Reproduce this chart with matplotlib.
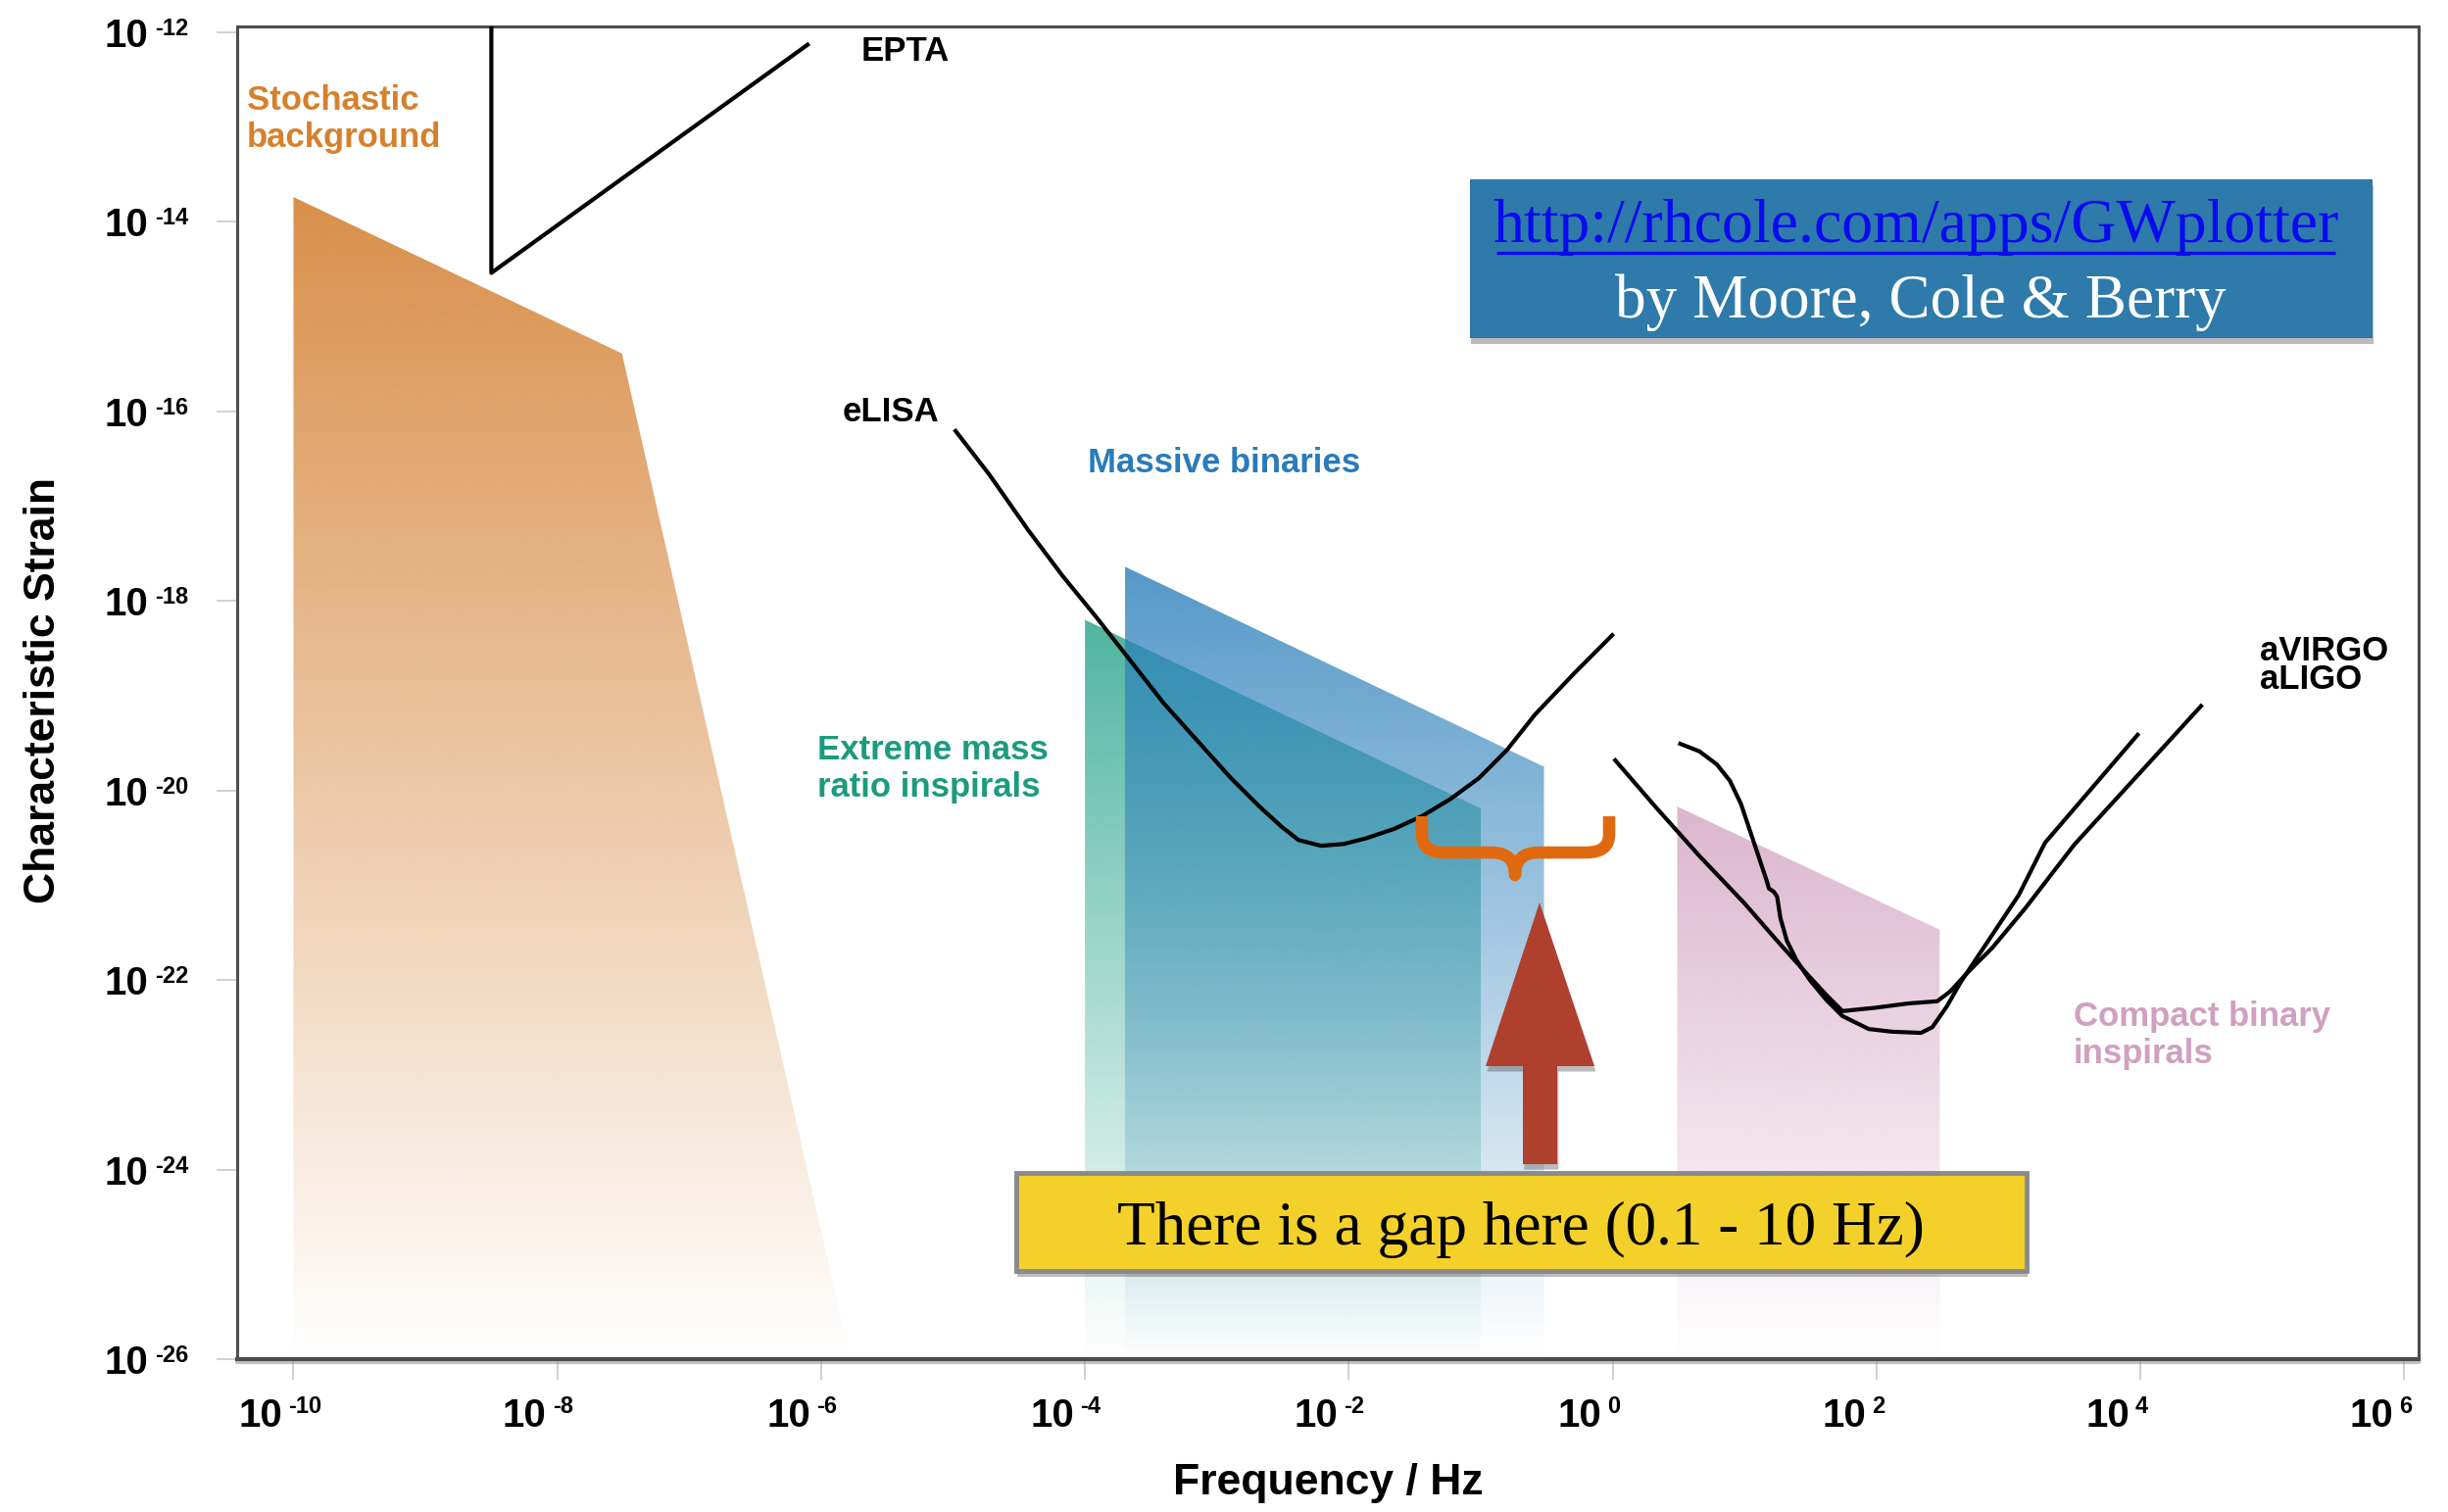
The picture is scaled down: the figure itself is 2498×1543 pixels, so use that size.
import numpy as np
import matplotlib

matplotlib.use("Agg")
import matplotlib.pyplot as plt
import matplotlib.colors as mcolors
import matplotlib.patheffects as pe
from matplotlib.patches import Polygon, Rectangle, PathPatch
from matplotlib.path import Path
from matplotlib.ticker import FixedLocator, FuncFormatter, NullLocator
from matplotlib.transforms import ScaledTranslation

W, H = 2498, 1543
SANS = ["Liberation Sans", "DejaVu Sans"]
SERIF = ["Liberation Serif", "DejaVu Serif"]

# everything below is log10(frequency / Hz) and log10(characteristic strain)
STOCH_LOGF = [-10.0, -7.51, -5.78, -10.0]
STOCH_LOGH = [-13.74, -15.39, -26.0, -26.0]

EMRI_LOGF = [-4.0, -1.0, -1.0, -4.0]
EMRI_LOGH = [-18.20, -20.19, -26.0, -26.0]

MASSIVE_LOGF = [-3.696, -0.52, -0.52, -3.696]
MASSIVE_LOGH = [-17.64, -19.75, -26.0, -26.0]

COMPACT_LOGF = [0.49, 2.48, 2.48, 0.49]
COMPACT_LOGH = [-20.17, -21.47, -26.0, -26.0]

EPTA_LOGF = [-8.5, -8.5, -6.09]
EPTA_LOGH = [-11.9, -14.54, -12.12]

ELISA_LOGF = [-4.990, -4.726, -4.427, -4.171, -3.915, -3.659, -3.403, -3.148,
              -2.892, -2.678, -2.507, -2.380, -2.210, -2.039, -1.868, -1.655,
              -1.441, -1.228, -1.015, -0.802, -0.588, -0.290, 0.008]
ELISA_LOGH = [-16.191, -16.666, -17.260, -17.734, -18.170, -18.625, -19.080, -19.476,
              -19.872, -20.169, -20.386, -20.524, -20.584, -20.565, -20.505, -20.405,
              -20.268, -20.089, -19.872, -19.575, -19.199, -18.763, -18.347]

GROUND_A_LOGF = [0.010, 0.325, 0.657, 0.999, 1.247, 1.470, 1.618, 1.742, 1.990, 2.238,
                 2.461, 2.559, 2.684, 2.881, 3.129, 3.501, 4.471]
GROUND_A_LOGH = [-19.666, -20.173, -20.690, -21.190, -21.586, -21.931, -22.155, -22.328,
                 -22.293, -22.248, -22.224, -22.121, -21.931, -21.656, -21.242, -20.570,
                 -19.094]

GROUND_B_LOGF = [0.498, 0.657, 0.790, 0.889, 0.972, 1.039, 1.105, 1.171, 1.185, 1.222,
                 1.247, 1.272, 1.321, 1.395, 1.495, 1.618, 1.742, 1.941, 2.114, 2.337,
                 2.423, 2.535, 2.634, 2.732, 2.881, 3.079, 3.278, 3.990]
GROUND_B_LOGH = [-19.500, -19.587, -19.725, -19.898, -20.139, -20.415, -20.690, -20.966,
                 -21.035, -21.069, -21.121, -21.345, -21.586, -21.793, -22.000, -22.207,
                 -22.380, -22.517, -22.545, -22.558, -22.499, -22.276, -22.034, -21.827,
                 -21.517, -21.103, -20.552, -19.397]

X_TICK_EXP = [-10, -8, -6, -4, -2, 0, 2, 4, 6]
Y_TICK_EXP = [-26, -24, -22, -20, -18, -16, -14, -12]
XLIM_EXP = (-10.427, 6.11)
YLIM_EXP = (-26.0, -11.94)


def pw(vals):
    return 10.0 ** np.asarray(vals, dtype=float)


def gradient_fill(ax, logf, logh, color, alpha_top, zorder):
    """Fill a polygon with a colour that fades out towards the bottom axis."""
    poly = Polygon(np.column_stack([pw(logf), pw(logh)]), closed=True,
                   facecolor="none", edgecolor="none", transform=ax.transData)
    ax.add_patch(poly)
    to_axes = ax.transScale + ax.transLimits
    top = to_axes.transform((10.0 ** logf[0], 10.0 ** max(logh)))[1]
    rgba = np.zeros((400, 1, 4))
    rgba[..., :3] = mcolors.to_rgb(color)
    rgba[:, 0, 3] = np.linspace(alpha_top, 0.0, 400)
    im = ax.imshow(rgba, extent=(0, 1, 0, top), transform=ax.transAxes,
                   aspect="auto", interpolation="bilinear", zorder=zorder)
    im.set_clip_path(poly)
    return im


fig = plt.figure(figsize=(W / 100, H / 100), dpi=100, facecolor="white")
ax = fig.add_axes([242 / W, 1 - 1387 / H, (2468 - 242) / W, (1387 - 27) / H])
ax.set_xscale("log")
ax.set_yscale("log")
ax.set_xlim(*pw(XLIM_EXP))
ax.set_ylim(*pw(YLIM_EXP))

gradient_fill(ax, STOCH_LOGF, STOCH_LOGH, "#d98f4a", 1.0, 1)
gradient_fill(ax, EMRI_LOGF, EMRI_LOGH, "#30a88f", 0.85, 2)
gradient_fill(ax, MASSIVE_LOGF, MASSIVE_LOGH, "#2a7fba", 0.8, 3)
gradient_fill(ax, COMPACT_LOGF, COMPACT_LOGH, "#c98fb3", 0.65, 2)

line_kw = dict(color="black", lw=3.0, solid_capstyle="butt", solid_joinstyle="round", zorder=4)
ax.plot(pw(EPTA_LOGF), pw(EPTA_LOGH), **line_kw)
ax.plot(pw(ELISA_LOGF), pw(ELISA_LOGH), **line_kw)
ax.plot(pw(GROUND_A_LOGF), pw(GROUND_A_LOGH), **line_kw)
ax.plot(pw(GROUND_B_LOGF), pw(GROUND_B_LOGH), **line_kw)

# region and detector labels
lab_kw = dict(family=SANS, fontweight="bold", fontsize=25, ha="left", va="baseline",
              linespacing=1.2, zorder=6)
ax.text(10 ** -10.353, 10 ** -13.21, "Stochastic\nbackground", color="#d6802c", **lab_kw)
ax.text(10 ** -5.695, 10 ** -12.30, "EPTA", color="black", **lab_kw)
ax.text(10 ** -5.836, 10 ** -16.105, "eLISA", color="black", **lab_kw)
ax.text(10 ** -3.978, 10 ** -16.643, "Massive binaries", color="#2a7bb9", **lab_kw)
ax.text(10 ** -6.03, 10 ** -20.066, "Extreme mass\nratio inspirals", color="#1c9b7e", **lab_kw)
ax.text(10 ** 3.492, 10 ** -22.879, "Compact binary\ninspirals", color="#d0a0bf", **lab_kw)
ax.text(10 ** 4.904, 10 ** -18.63, "aVIRGO", color="black", **lab_kw)
ax.text(10 ** 4.904, 10 ** -18.93, "aLIGO", color="black", **lab_kw)

# axes frame and ticks
for side, spine in ax.spines.items():
    spine.set_color("#4d4d4d")
    spine.set_linewidth(2.2)
ax.spines["bottom"].set_linewidth(3.0)
ax.spines["bottom"].set_path_effects([pe.SimpleLineShadow(offset=(0, -2), shadow_color="#888888", alpha=0.5),
                                      pe.Normal()])

ax.xaxis.set_major_locator(FixedLocator(pw(X_TICK_EXP)))
ax.yaxis.set_major_locator(FixedLocator(pw(Y_TICK_EXP)))
ax.xaxis.set_minor_locator(NullLocator())
ax.yaxis.set_minor_locator(NullLocator())
ax.xaxis.set_major_formatter(FuncFormatter(lambda v, _pos: "10"))
ax.yaxis.set_major_formatter(FuncFormatter(lambda v, _pos: "10"))
ax.tick_params(axis="both", direction="out", length=15, width=1.2, color="#c8c8c8",
               labelsize=29, labelcolor="black")
ax.tick_params(axis="x", pad=13)
ax.tick_params(axis="y", pad=50)
for lab in ax.get_xticklabels() + ax.get_yticklabels():
    lab.set_family(SANS)
    lab.set_fontweight("bold")
shift = ScaledTranslation(-11 / 100, 0, fig.dpi_scale_trans)
for lab in ax.get_xticklabels():
    lab.set_horizontalalignment("right")
    lab.set_transform(lab.get_transform() + shift)

exp_kw = dict(family=SANS, fontweight="bold", fontsize=17, ha="left", va="top",
              textcoords="offset pixels", annotation_clip=False)
for e in X_TICK_EXP:
    ax.annotate(f"{e}", xy=(10.0 ** e, 0), xycoords=("data", "axes fraction"),
                xytext=(-5, -37), **exp_kw)
for e in Y_TICK_EXP:
    ax.annotate(f"{e}", xy=(0, 10.0 ** e), xycoords=("axes fraction", "data"),
                xytext=(-84, 15), **exp_kw)

ax.set_xlabel("Frequency / Hz", family=SANS, fontweight="bold", fontsize=32)
ax.set_ylabel("Characteristic Strain", family=SANS, fontweight="bold", fontsize=32)
ax.xaxis.set_label_coords(0.5, -0.078)
ax.yaxis.set_label_coords(-0.0795, 0.5015)

# annotation layer in figure pixels (y pointing down)
deco = fig.add_axes([0, 0, 1, 1], zorder=5)
deco.set_xlim(0, W)
deco.set_ylim(H, 0)
deco.set_axis_off()
deco.patch.set_alpha(0)

shadow = [pe.SimplePatchShadow(offset=(1, -4), shadow_rgbFace="#555555", alpha=0.4), pe.Normal()]

deco.add_patch(Rectangle((1500, 183), 921, 162, facecolor="#2e7aaa", edgecolor="none",
                         path_effects=shadow))
url = deco.text(1955, 247, "http://rhcole.com/apps/GWplotter", family=SERIF, fontsize=46,
                color="#0a0af0", ha="center", va="baseline")
deco.text(1960, 324, "by Moore, Cole & Berry", family=SERIF, fontsize=45.5,
          color="white", ha="center", va="baseline")

deco.add_patch(Rectangle((1037, 1197), 1031, 100, facecolor="#f4d12a", edgecolor="#8a8a8a",
                         lw=3.5, path_effects=shadow))
deco.text(1552, 1270, "There is a gap here (0.1 - 10 Hz)", family=SERIF, fontsize=45.5,
          color="black", ha="center", va="baseline")

arrow = [(1554, 1188), (1554, 1088), (1516, 1088), (1571, 921), (1627, 1088),
         (1589, 1088), (1589, 1188)]
deco.add_patch(Polygon(arrow, closed=True, facecolor="#b0402e", edgecolor="none",
                       path_effects=shadow))

brace_verts = [(1451, 833), (1451, 852), (1451, 870), (1474, 870), (1522, 870),
               (1546, 870), (1546, 893), (1546, 870), (1570, 870), (1618, 870),
               (1642, 870), (1642, 852), (1642, 833)]
brace_codes = [Path.MOVETO, Path.LINETO, Path.CURVE3, Path.CURVE3, Path.LINETO,
               Path.CURVE3, Path.CURVE3, Path.CURVE3, Path.CURVE3, Path.LINETO,
               Path.CURVE3, Path.CURVE3, Path.LINETO]
deco.add_patch(PathPatch(Path(brace_verts, brace_codes), facecolor="none",
                         edgecolor="#e0690f", lw=9, capstyle="butt", joinstyle="round"))

# underline the link under its measured extent
fig.canvas.draw()
bb = url.get_window_extent().transformed(deco.transData.inverted())
deco.plot([bb.x0 + 4, bb.x1 - 4], [258, 258], color="#0a0af0", lw=2.4, solid_capstyle="butt")

fig.savefig("out.png", dpi=100, facecolor="white")
